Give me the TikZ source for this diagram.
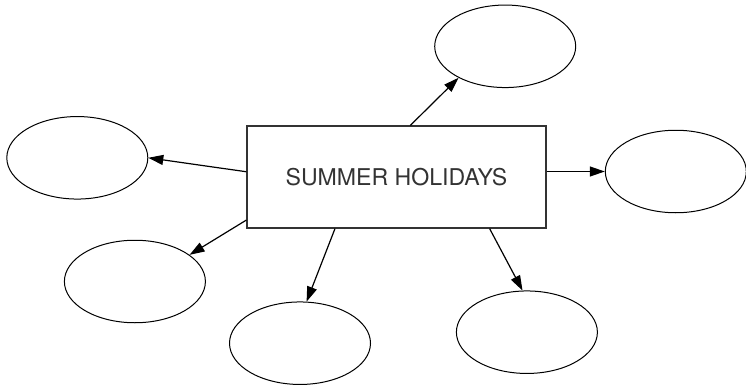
\documentclass[tikz,border=0pt]{standalone}
\usepackage{fontspec}
\setmainfont{TeX Gyre Heros}
\usepackage{tikz}
\usetikzlibrary{arrows.meta}
\usetikzlibrary{shapes.geometric}
\usetikzlibrary{positioning}
\tikzset{
  topic/.style={
    draw=black!80, line width=1.2pt, rectangle,
    minimum width=299pt, minimum height=102pt, inner sep=0pt,
    text=black!80, font=\fontsize{23.1}{25}\selectfont,
  },
  bubble/.style={
    draw, line width=1pt, ellipse,
    minimum width=141pt, minimum height=82.5pt, inner sep=0pt,
  },
  link/.style={
    line width=1.2pt, -{Triangle[length=15pt, width=10pt]},
  },
}
\begin{document}
\begin{tikzpicture}[x=1pt, y=-1pt]

  \useasboundingbox (0,0) rectangle (746,385);

  % Define nodes
  \node[topic] (summer) at (396.5,177) {SUMMER HOLIDAYS};
  \node[bubble] (top) at (505.2,46.3) {};
  \node[bubble] (left) at (77.3,157.8) {};
  \node[bubble] (right) at (675.8,171.5) {};
  \node[bubble] (lowleft) at (134.9,281.5) {};
  \node[bubble] (lowmid) at (300,343.2) {};
  \node[bubble] (lowright) at (526.9,332.2) {};

  % Connect nodes
  \draw[link] (summer.75) -- (top.214.5);
  \draw[link] (summer.178) -- (left.east);
  \draw[link] (summer.east |- right.west) -- (right.west);
  \draw[link] (summer.196.6) -- (lowleft.26.4);
  \draw[link] (summer.220.5) -- (lowmid.81.8);
  \draw[link] (summer.331.1) -- (lowright.96.1);

\end{tikzpicture}
\end{document}
